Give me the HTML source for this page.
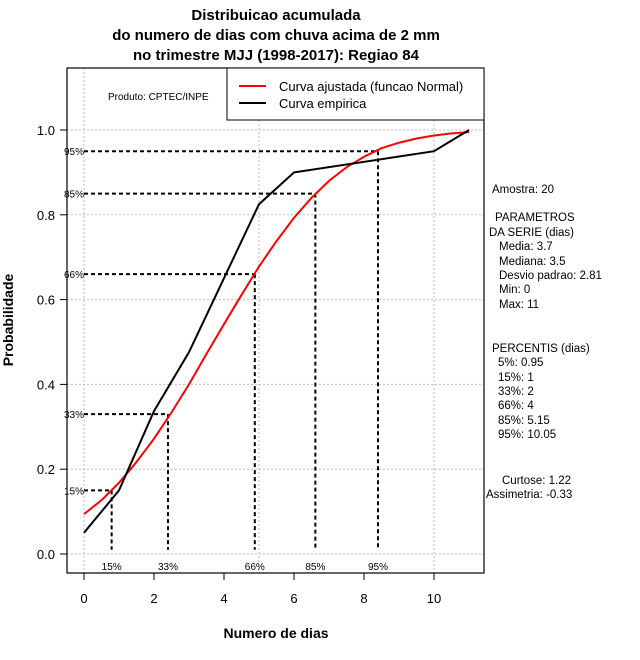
<!DOCTYPE html>
<html><head><meta charset="utf-8"><style>
body{margin:0;background:#fff;}
svg{display:block;font-family:"Liberation Sans",sans-serif;}
</style></head><body>
<svg id="chart" width="640" height="660" viewBox="0 0 640 660">
<rect width="640" height="660" fill="#fff"/>
<g font-weight="bold" font-size="15" text-anchor="middle">
<text x="276" y="20">Distribuicao acumulada</text>
<text x="276" y="40">do numero de dias com chuva acima de 2 mm</text>
<text x="276" y="60">no trimestre MJJ (1998-2017): Regiao 84</text>
</g>
<g id="grid"></g>
<g id="marks"></g>
<rect x="67" y="68" width="417" height="505" fill="none" stroke="#000" stroke-width="1.2"/>
<g id="axes" font-size="13"></g>
<text x="276" y="638" font-size="14" font-weight="bold" text-anchor="middle">Numero de dias</text>
<text x="0" y="0" font-size="14" font-weight="bold" text-anchor="middle" transform="translate(13,320) rotate(-90)">Probabilidade</text>
<text x="108" y="100" font-size="10">Produto: CPTEC/INPE</text>
<g>
<rect x="227" y="68" width="257" height="52" fill="#fff" stroke="#000" stroke-width="1"/>
<line x1="239" y1="86" x2="266" y2="86" stroke="#f00" stroke-width="2"/>
<text x="279" y="91" font-size="13">Curva ajustada (funcao Normal)</text>
<line x1="239" y1="103" x2="266" y2="103" stroke="#000" stroke-width="2"/>
<text x="279" y="108" font-size="13">Curva empirica</text>
</g>
<g font-size="11.5">
<text x="492" y="193">Amostra: 20</text>
<text x="495" y="221">PARAMETROS</text>
<text x="489" y="236">DA SERIE (dias)</text>
<text x="499" y="250">Media: 3.7</text>
<text x="499" y="265">Mediana: 3.5</text>
<text x="499" y="279">Desvio padrao: 2.81</text>
<text x="499" y="293">Min: 0</text>
<text x="499" y="308">Max: 11</text>
<text x="492" y="352">PERCENTIS (dias)</text>
<text x="498" y="366">5%: 0.95</text>
<text x="498" y="381">15%: 1</text>
<text x="498" y="395">33%: 2</text>
<text x="498" y="409">66%: 4</text>
<text x="498" y="424">85%: 5.15</text>
<text x="498" y="438">95%: 10.05</text>
<text x="502" y="484">Curtose: 1.22</text>
<text x="486" y="498">Assimetria: -0.33</text>
</g>
</svg>
<script>
const empX=[0,1,2,3,5,6,10,11];
const empY=[0.05,0.15,0.337,0.476,0.825,0.90,0.95,1.0];
const fitX=[0,0.5,1,1.5,2,2.5,3,3.5,4,4.5,5,5.5,6,6.5,7,7.5,8,8.5,9,9.5,10,10.5,11];
const fitY=[0.094,0.127,0.168,0.217,0.272,0.334,0.40,0.472,0.542,0.611,0.678,0.738,0.793,0.840,0.880,0.912,0.937,0.957,0.970,0.980,0.987,0.992,0.995];
const pctLabels=["15%","33%","66%","85%","95%"];
const pctProb=[0.15,0.33,0.66,0.85,0.95];
const pctX=[0.79,2.4,4.88,6.61,8.4];
const xTicks=[0,2,4,6,8,10];
const yTicks=[0,0.2,0.4,0.6,0.8,1.0];
const yTickLabels=["0.0","0.2","0.4","0.6","0.8","1.0"];
const xGrid=[0,5,10];

const sx=v=>84+v*35;
const sy=v=>554-v*424;
const NS="http://www.w3.org/2000/svg";
function mk(tag,attrs,parent){const e=document.createElementNS(NS,tag);for(const k in attrs)e.setAttribute(k,attrs[k]);parent.appendChild(e);return e;}
const grid=document.getElementById('grid'),marks=document.getElementById('marks'),axes=document.getElementById('axes');
xGrid.forEach(v=>{const l=mk('line',{x1:sx(v),x2:sx(v),y1:68,y2:573,stroke:'#bbb','stroke-dasharray':'2,2'},grid);

});
yTicks.forEach(v=>{const l=mk('line',{x1:67,x2:484,y1:sy(v),y2:sy(v),stroke:'#bbb','stroke-dasharray':'2,2'},grid);

});
// percentile guides
pctProb.forEach((p,i)=>{
const h=mk('line',{x1:84,x2:sx(pctX[i]),y1:sy(p),y2:sy(p),stroke:'#000','stroke-width':2,'stroke-dasharray':'4,3'},marks);


const v=mk('line',{x1:sx(pctX[i]),x2:sx(pctX[i]),y1:sy(p),y2:sy(0.01),stroke:'#000','stroke-width':2,'stroke-dasharray':'4,3'},marks);


const t1=mk('text',{x:84,y:sy(p)+4,'font-size':10,'text-anchor':'end'},marks);t1.textContent=pctLabels[i];


const t2=mk('text',{x:sx(pctX[i]),y:570,'font-size':10,'text-anchor':'middle'},marks);t2.textContent=pctLabels[i];


});
const fit=mk('polyline',{points:fitX.map((x,i)=>sx(x)+','+sy(fitY[i])).join(' '),fill:'none',stroke:'#f00','stroke-width':2},marks);


const emp=mk('polyline',{points:empX.map((x,i)=>sx(x)+','+sy(empY[i])).join(' '),fill:'none',stroke:'#000','stroke-width':2},marks);


xTicks.forEach(v=>{const l=mk('line',{x1:sx(v),x2:sx(v),y1:573,y2:580,stroke:'#000'},axes);


const t=mk('text',{x:sx(v),y:603,'text-anchor':'middle'},axes);t.textContent=v;

});
yTicks.forEach((v,i)=>{const l=mk('line',{x1:60,x2:67,y1:sy(v),y2:sy(v),stroke:'#000'},axes);


const t=mk('text',{x:55,y:sy(v)+5,'text-anchor':'end'},axes);t.textContent=yTickLabels[i];

});
</script>
</body></html>
